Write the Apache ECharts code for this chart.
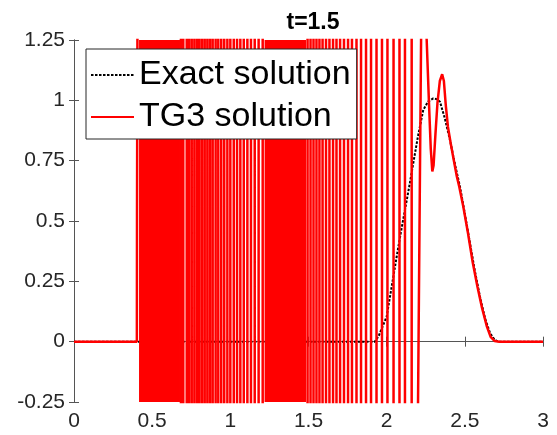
<!DOCTYPE html>
<html>
<head>
<meta charset="utf-8">
<script src="https://cdn.jsdelivr.net/npm/echarts@6/dist/echarts.min.js"></script>
<style>
  html, body { margin: 0; padding: 0; background: #fff; }
  #chart { width: 557px; height: 435px; }
</style>
</head>
<body>
<div id="chart"></div>
<script>
  // 精确解
  const exactX = [0, 1.925, 1.95, 2.0, 2.03, 2.064, 2.09, 2.117, 2.145, 2.17, 2.2, 2.234, 2.265, 2.298, 2.32, 2.341,
    2.37, 2.405, 2.435, 2.469, 2.5, 2.533, 2.565, 2.597, 2.63, 2.661, 2.69, 2.714, 3]
  const exactY = [0, 0, 0.025, 0.104, 0.22, 0.352, 0.45, 0.546, 0.645, 0.739, 0.85, 0.96, 0.995, 1.008, 1.005, 0.994,
    0.93, 0.836, 0.74, 0.642, 0.53, 0.408, 0.29, 0.186, 0.095, 0.036, 0.008, 0, 0]

  // TG3: 左边平直段和小台阶
  const tgHeadX = [0, 0.402, 0.403, 0.415]
  const tgHeadY = [0, 0, 0.525, 0.525]
  // 振荡很大，超出坐标范围，只看到竖线
  const oscAmp = 4
  const oscStrokes1 = [0.684, 0.699, 0.721, 0.736, 0.753, 0.770, 0.787, 0.802, 0.819, 0.836, 0.853, 0.870, 0.887, 0.906,
    0.923, 0.942, 0.961, 0.981, 1.000, 1.022, 1.043, 1.064, 1.086, 1.109, 1.132, 1.156, 1.181, 1.207]
  const oscStrokes2 = [1.494, 1.513, 1.532, 1.551, 1.570, 1.590, 1.612, 1.634, 1.657, 1.679, 1.702, 1.727, 1.753, 1.778,
    1.807, 1.836, 1.868, 1.900, 1.935, 1.970, 2.005, 2.044, 2.082, 2.117, 2.160]
  // 竖线密到连成一片的区间
  const solidBands = [[0.416, 0.678], [1.219, 1.484]]
  // 右边的波形
  const tgTailX = [2.200, 2.221, 2.238, 2.256, 2.270, 2.282, 2.292, 2.300, 2.312, 2.325, 2.340, 2.355, 2.366, 2.378,
    2.392, 2.41, 2.43, 2.447, 2.465, 2.49, 2.52, 2.55, 2.58, 2.61, 2.64, 2.665, 2.69, 2.72, 3]
  const tgTailY = [-0.30, 1.32, 1.50, 1.25, 1.00, 0.80, 0.705, 0.73, 0.86, 0.99, 1.08, 1.108, 1.08, 0.98,
    0.89, 0.82, 0.75, 0.69, 0.64, 0.56, 0.45, 0.33, 0.23, 0.14, 0.065, 0.02, 0.003, 0, 0]

  const xTicks = [0, 0.5, 1, 1.5, 2, 2.5, 3]
  const yTicks = [-0.25, 0, 0.25, 0.5, 0.75, 1, 1.25]

  const exactData = exactX.map((x, i) => [x, exactY[i]])
  let tgData = tgHeadX.map((x, i) => [x, tgHeadY[i]])
  let level = oscAmp
  tgData.push([solidBands[0][0], level])
  oscStrokes1.concat(oscStrokes2).forEach(x => {
    tgData.push([x, level])
    level = -level
    tgData.push([x, level])
  })
  tgData = tgData.concat(tgTailX.map((x, i) => [x, tgTailY[i]]))

  const font = 'Liberation Sans, Arial, Helvetica, sans-serif'
  const axisColor = '#555'
  const tickLabel = { color: '#262626', fontSize: 21, fontFamily: font, margin: 9 }

  let myChart = echarts.init(document.getElementById('chart'))
  myChart.setOption({
    animation: false,
    backgroundColor: '#fff',
    title: {
      text: 't=1.5',
      left: 308, top: 6, textAlign: 'center',
      textStyle: { fontSize: 23, fontWeight: 'bold', color: '#000', fontFamily: font }
    },
    grid: { left: 74, right: 14, top: 40, bottom: 33 },
    legend: {
      orient: 'vertical',
      left: 86, top: 49,
      data: ['Exact solution', 'TG3 solution'],
      backgroundColor: '#fff',
      borderColor: '#262626', borderWidth: 1, borderRadius: 0,
      padding: [8, 6, 4, 4],
      itemWidth: 43, itemHeight: 14, itemGap: 6,
      itemStyle: { opacity: 0 },
      textStyle: { fontSize: 34, lineHeight: 36, color: '#000', fontFamily: font },
      z: 10
    },
    xAxis: [{
      type: 'value', min: 0, max: 3, interval: 0.5,
      axisLine: { show: true, lineStyle: { color: axisColor } },
      axisTick: { inside: true, length: 5, lineStyle: { color: axisColor } },
      axisLabel: Object.assign({ formatter: v => String(v) }, tickLabel),
      splitLine: { show: false }
    }, {
      type: 'value', position: 'top', min: 0, max: 3, interval: 0.5,
      axisLine: { show: true, lineStyle: { color: axisColor } },
      axisTick: { inside: true, length: 5, lineStyle: { color: axisColor } },
      axisLabel: { show: false },
      splitLine: { show: false }
    }],
    yAxis: [{
      type: 'value', min: -0.25, max: 1.25, interval: 0.25,
      axisLine: { show: true, lineStyle: { color: axisColor } },
      axisTick: { inside: true, length: 5, lineStyle: { color: axisColor } },
      axisLabel: Object.assign({ formatter: v => String(v) }, tickLabel),
      splitLine: { show: false }
    }, {
      type: 'value', position: 'right', min: -0.25, max: 1.25, interval: 0.25,
      axisLine: { show: true, lineStyle: { color: axisColor } },
      axisTick: { inside: true, length: 5, lineStyle: { color: axisColor } },
      axisLabel: { show: false },
      splitLine: { show: false }
    }],
    series: [{
      name: 'Exact solution',
      type: 'line',
      data: exactData,
      symbol: 'none',
      z: 2,
      itemStyle: { color: '#000' },
      lineStyle: { color: '#000', width: 2, type: [2.5, 1.5] }
    }, {
      name: 'TG3 solution',
      type: 'line',
      data: tgData,
      symbol: 'none',
      sampling: 'none',
      z: 3,
      itemStyle: { color: '#ff0000' },
      lineStyle: { color: '#ff0000', width: 2.5 },
      markArea: {
        silent: true,
        z: 3,
        itemStyle: { color: '#ff0000', opacity: 1 },
        data: solidBands.map(b => [{ xAxis: b[0] }, { xAxis: b[1] }])
      }
    }]
  })
</script>
</body>
</html>
